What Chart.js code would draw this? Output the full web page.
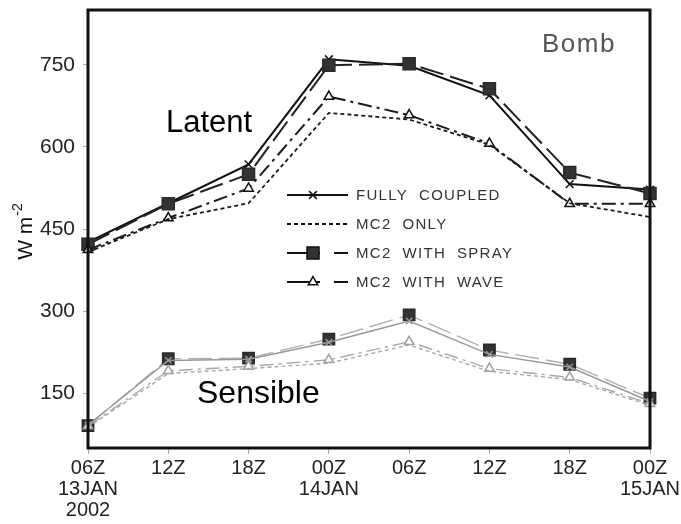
<!DOCTYPE html>
<html>
<head>
<meta charset="utf-8">
<script src="https://cdn.jsdelivr.net/npm/chart.js@4.4.1/dist/chart.umd.min.js"></script>
<style>
  html, body { margin: 0; padding: 0; background: #fff; }
  #wrap { width: 681px; height: 524px; }
</style>
</head>
<body>
<div id="wrap"><canvas id="c" width="681" height="524"></canvas></div>
<script>
// ---- Data ----
const categories = [["06Z","13JAN","2002"],["12Z"],["18Z"],["00Z","14JAN"],["06Z"],["12Z"],["18Z"],["00Z","15JAN"]];
const yTicks = [150, 300, 450, 600, 750];
const seriesNames = ["FULLY  COUPLED", "MC2  ONLY", "MC2  WITH  SPRAY", "MC2  WITH  WAVE"];

// Latent heat flux (W m-2)
const latentFully = [426, 497, 568, 760, 748, 694, 532, 522];
const latentMC2   = [408, 468, 497, 662, 650, 604, 497, 472];
const latentSpray = [422, 496, 550, 749, 752, 706, 553, 515];
const latentWave  = [412, 470, 524, 692, 658, 606, 496, 496];

// Sensible heat flux (W m-2)
const sensFully = [92, 210, 212, 243, 282, 221, 198, 135];
const sensMC2   = [88, 186, 195, 205, 238, 190, 175, 128];
const sensSpray = [91, 213, 214, 249, 293, 229, 203, 141];
const sensWave  = [90, 191, 199, 211, 244, 195, 179, 131];

const FONT = "'Liberation Sans', Arial, sans-serif";
const DASH_MC2 = [4, 3];
const DASH_SPRAY = [24, 7];
const DASH_WAVE = [14, 5, 3, 5];

function ds(label, data, color, width, dash, style, radius, fill, pcolor) {
  return {
    label, data,
    borderColor: color, borderWidth: width, borderDash: dash,
    pointStyle: style || false, pointRadius: style ? radius : 0,
    pointBackgroundColor: fill, pointBorderColor: pcolor || color,
    pointBorderWidth: 1.5, pointHoverRadius: radius,
    tension: 0, fill: false
  };
}

const datasets = [
  ds("Sensible " + seriesNames[1], sensMC2,   '#a8a8a8', 1.4, DASH_MC2, null, 0),
  ds("Sensible " + seriesNames[3], sensWave,  '#a8a8a8', 1.4, DASH_WAVE, 'triangle', 5.5, '#ffffff', '#a0a0a0'),
  ds("Sensible " + seriesNames[0], sensFully, '#999999', 1.5, [], 'crossRot', 4.5, '#999', '#999'),
  ds("Sensible " + seriesNames[2], sensSpray, '#b0b0b0', 1.4, DASH_SPRAY, 'rect', 8, '#333333', '#2a2a2a'),
  ds("Latent " + seriesNames[1], latentMC2,   '#1a1a1a', 1.8, DASH_MC2, null, 0),
  ds("Latent " + seriesNames[3], latentWave,  '#1a1a1a', 2, DASH_WAVE, 'triangle', 5.5, '#ffffff', '#111'),
  ds("Latent " + seriesNames[2], latentSpray, '#222222', 2, DASH_SPRAY, 'rect', 8.5, '#333333', '#2a2a2a'),
  ds("Latent " + seriesNames[0], latentFully, '#111111', 2, [], 'crossRot', 5.5, '#111', '#111')
];

const annotate = {
  id: 'annotate',
  afterDraw(chart) {
    const ctx = chart.ctx, a = chart.chartArea;
    ctx.save();
    // frame
    ctx.strokeStyle = '#111';
    ctx.lineWidth = 3;
    ctx.strokeRect(a.left, a.top, a.right - a.left, a.bottom - a.top);

    // text labels
    ctx.fillStyle = '#000';
    ctx.textBaseline = 'middle';
    ctx.textAlign = 'left';
    ctx.font = '31px ' + FONT;
    ctx.fillText('Latent', 166, 123);
    ctx.font = '32px ' + FONT;
    ctx.fillText('Sensible', 197, 394);
    ctx.fillStyle = '#555';
    ctx.font = '26px ' + FONT;
    ctx.letterSpacing = '1.5px';
    ctx.fillText('Bomb', 542, 45);
    ctx.letterSpacing = '0px';

    // y axis title W m^-2
    ctx.save();
    ctx.translate(32, 232);
    ctx.rotate(-Math.PI / 2);
    ctx.fillStyle = '#111';
    ctx.font = '21px ' + FONT;
    ctx.textAlign = 'left';
    ctx.textBaseline = 'alphabetic';
    const main = 'W m';
    const w = ctx.measureText(main).width;
    const sup = '-2';
    ctx.font = '14px ' + FONT;
    const ws = ctx.measureText(sup).width;
    const x0 = -(w + ws) / 2;
    ctx.font = '21px ' + FONT;
    ctx.fillText(main, x0, 0);
    ctx.font = '14px ' + FONT;
    ctx.fillText(sup, x0 + w + 1, -10);
    ctx.restore();

    // legend
    const rows = [195, 224, 253, 282];
    const lx0 = 287, lx1 = 348, tx = 356;
    const styles = [
      {dash: [], marker: 'crossRot', r: 5.5, fill: '#111'},
      {dash: DASH_MC2, marker: null},
      {dash: [], marker: 'rect', r: 8.5, fill: '#333', split: true},
      {dash: [], marker: 'triangle', r: 5.5, fill: '#fff', split: true}
    ];
    for (let i = 0; i < 4; i++) {
      const y = rows[i], s = styles[i];
      ctx.strokeStyle = '#111';
      ctx.lineWidth = 2;
      ctx.setLineDash(s.dash);
      ctx.beginPath();
      if (s.split) {
        ctx.moveTo(lx0, y); ctx.lineTo(320, y);
        ctx.moveTo(334, y); ctx.lineTo(lx1, y);
      } else {
        ctx.moveTo(lx0, y); ctx.lineTo(lx1, y);
      }
      ctx.stroke();
      ctx.setLineDash([]);
      if (s.marker) {
        ctx.fillStyle = s.fill;
        ctx.strokeStyle = '#111';
        ctx.lineWidth = 1.5;
        Chart.helpers.drawPoint(ctx, {pointStyle: s.marker, radius: s.r, rotation: 0, borderWidth: 1.5}, 313, y);
      }
      ctx.fillStyle = '#333';
      ctx.font = '15px ' + FONT;
      ctx.letterSpacing = '1.3px';
      ctx.textAlign = 'left';
      ctx.textBaseline = 'middle';
      ctx.fillText(seriesNames[i], tx, y + 1);
      ctx.letterSpacing = '0px';
    }
    ctx.restore();
  }
};

new Chart(document.getElementById('c'), {
  type: 'line',
  data: { labels: categories, datasets },
  plugins: [annotate],
  options: {
    responsive: false,
    devicePixelRatio: 1,
    animation: false,
    events: [],
    layout: { padding: { left: 0, right: 31, top: 9, bottom: 0 } },
    plugins: { legend: { display: false }, tooltip: { enabled: false } },
    scales: {
      x: {
        type: 'category',
        offset: false,
        border: { display: false },
        grid: { display: true, drawOnChartArea: false, drawTicks: true, tickLength: 6, color: '#aaa' },
        ticks: { color: '#222', font: { family: FONT, size: 20, lineHeight: 1.05 }, padding: 4, maxRotation: 0, autoSkip: false },
        afterFit(scale) { scale.height = 76; scale.paddingLeft = 0; scale.paddingRight = 0; }
      },
      y: {
        min: 50, max: 850,
        border: { display: false },
        grid: { display: true, drawOnChartArea: false, drawTicks: true, tickLength: 5, color: '#aaa' },
        afterBuildTicks(scale) { scale.ticks = yTicks.map(v => ({ value: v })); },
        ticks: { color: '#222', font: { family: FONT, size: 21 }, padding: 8 },
        afterFit(scale) { scale.width = 88; scale.paddingTop = 0; scale.paddingBottom = 0; }
      }
    }
  }
});
</script>
</body>
</html>
